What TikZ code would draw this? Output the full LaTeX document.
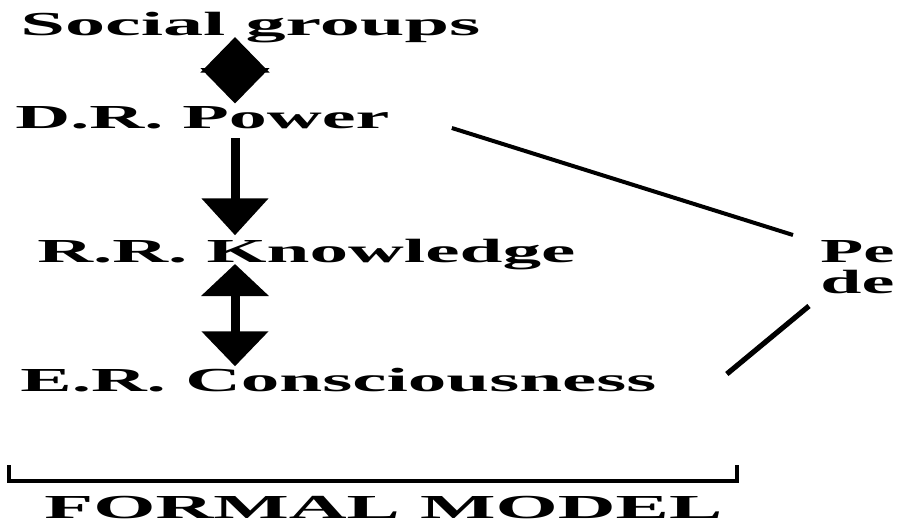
\documentclass[tikz,border=0pt]{standalone}
\usepackage{fontspec}
\setmainfont{Liberation Serif}
\usepackage{graphicx}
\usetikzlibrary{arrows.meta, positioning, calc}

% wide bold lettering, pulled out to a given width
\newcommand{\widetext}[2]{\resizebox{#1}{\height}{\bfseries #2}}

\tikzset{
  lbl/.style={inner sep=0pt, anchor=base west, font=\fontsize{16.8}{18}\selectfont},
  fatdown/.style={line width=4.5pt, -{Triangle[width=32.5pt,length=18.5pt]}},
  fatboth/.style={line width=4.5pt, {Triangle[width=33pt,length=16pt]}-{Triangle[width=32.5pt,length=17.5pt]}},
  diamondarrow/.style={line width=4.5pt, {Triangle[width=33.5pt,length=17.8pt]}-{Triangle[width=33.5pt,length=17.8pt]}},
  tie/.style={line width=2pt},
  bracket/.style={line width=2pt, line cap=rect}
}

\begin{document}
\begin{tikzpicture}[x=0.5pt, y=-0.5pt]
      \useasboundingbox (0,0) rectangle (902,525);

      \node[lbl] (social) at (20,35) {\widetext{230pt}{Social groups}};
      \node[lbl] (power) at (15,128) {\widetext{187pt}{D.R. Power}};
      \node[lbl] (knowledge) at (37,262) {\widetext{269pt}{R.R. Knowledge}};
      \node[lbl] (conscious) at (20,391) {\widetext{318pt}{E.R. Consciousness}};
      \node[lbl] (pe) at (820,262) {\widetext{37pt}{Pe}};
      \node[lbl] (de) at (820,293) {\widetext{37pt}{de}};
      \node[lbl] (formal) at (44,518) {\widetext{339pt}{FORMAL MODEL}};

      \coordinate (axis) at (235,0);

      \draw[diamondarrow] ($(social.base -| axis)+(0,-1pt)$) -- ($(power.north -| axis)+(0,1pt)$);
      \draw[fatdown] ($(power.base -| axis)+(0,-5pt)$) -- ($(knowledge.north -| axis)+(0,1.5pt)$);
      \draw[fatboth] ($(knowledge.base -| axis)+(0,-1pt)$) -- ($(conscious.north -| axis)+(0,0.5pt)$);

      \draw[tie] ($(power.base east)+(31pt,0)$) -- ($(pe.base west)+(-13.5pt,13.5pt)$);
      \draw[tie, line width=2.6pt] ($(conscious.base east)+(35pt,8.5pt)$) -- ($(de.base west)+(-5.5pt,-6.5pt)$);

      \draw[bracket] (9,467) -- (9,481) -- (737,481) -- (737,467);
    \end{tikzpicture}
\end{document}
